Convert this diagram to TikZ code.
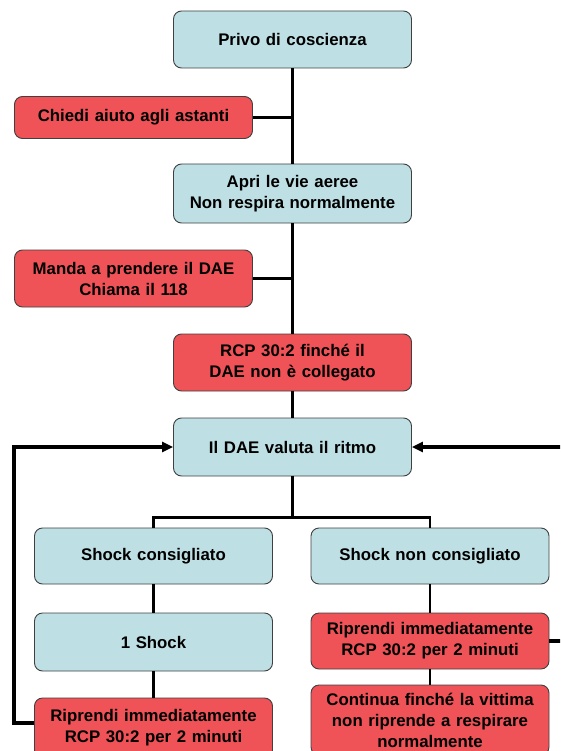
\documentclass[tikz,border=0pt]{standalone}
\usepackage{fontspec}
\setmainfont{Liberation Sans}
\usepackage{xcolor}
\usetikzlibrary{arrows.meta,calc}
\definecolor{boxblue}{RGB}{190,224,228}
\definecolor{boxred}{RGB}{239,82,87}
\definecolor{boxedge}{RGB}{64,64,64}

\begin{document}
\begin{tikzpicture}[x=1pt,y=-1pt]
\tikzset{
  bx/.style={rectangle,rounded corners=8pt,draw=boxedge,line width=0.9pt,text width=230pt,minimum width=238pt,align=center,inner sep=0pt,font=\fontsize{16.8}{21}\selectfont\bfseries},
  bl/.style={bx,fill=boxblue},
  rd/.style={bx,fill=boxred},
  ln/.style={line width=2.4pt,draw=black},
  fb/.style={-{Triangle[length=11pt,width=10pt]},line width=4pt,draw=black}
}
\clip (0,0) rectangle (560,751);
\node[bl,minimum height=57pt] (privo) at (292.5,39.5) {Privo di coscienza};
\node[rd,minimum height=42pt] (aiuto) at (133.5,117.5) {Chiedi aiuto agli astanti};
\node[bl,minimum height=59pt] (vie) at (292.5,193.5) {Apri le vie aeree\\Non respira normalmente};
\node[rd,minimum height=57pt] (dae) at (133.5,278.5) {Manda a prendere il DAE\\Chiama il 118};
\node[rd,minimum height=57pt] (rcp) at (292.5,362.5) {RCP 30:2 finché il\\DAE non è collegato};
\node[bl,minimum height=58pt] (ritmo) at (292.5,447) {Il DAE valuta il ritmo};
\node[bl,minimum height=56pt] (sisi) at (153.5,556) {Shock consigliato};
\node[bl,minimum height=56pt] (nono) at (430,556) {Shock non consigliato};
\node[bl,minimum height=58pt] (shock) at (153.5,642) {1 Shock};
\node[rd,minimum height=56pt] (ripno) at (430,641) {Riprendi immediatamente\\RCP 30:2 per 2 minuti};
\node[rd,minimum height=60pt] (ripsi) at (153.5,728) {Riprendi immediatamente\\RCP 30:2 per 2 minuti};
\node[rd,minimum height=70pt] (cont) at (430,720) {Continua finché la vittima\\non riprende a respirare\\normalmente};
% main line
\draw[ln] (privo.south) -- (vie.north);
\draw[ln] (aiuto.east) -- (aiuto.east -| privo.south);
\draw[ln] (vie.south) -- (rcp.north);
\draw[ln] (dae.east) -- (dae.east -| vie.south);
\draw[ln] (rcp.south) -- (ritmo.north);
% branches
\draw[ln] (ritmo.south) -- ++(0,41) -| (sisi.north);
\draw[ln] (ritmo.south) -- ++(0,41) -| (nono.north);
\draw[ln] (sisi.south) -- (shock.north); \draw[ln] (shock.south) -- (ripsi.north);
\draw[ln] (nono.south) -- (ripno.north); \draw[ln] (ripno.south) -- (cont.north);
% back to the rhythm check
\draw[fb] ([yshift=5pt]ripsi.west) -- ++(-20,0) |- (ritmo.west);
\draw[fb] (ripno.east) -- ++(20,0) |- (ritmo.east);
\end{tikzpicture}
\end{document}
